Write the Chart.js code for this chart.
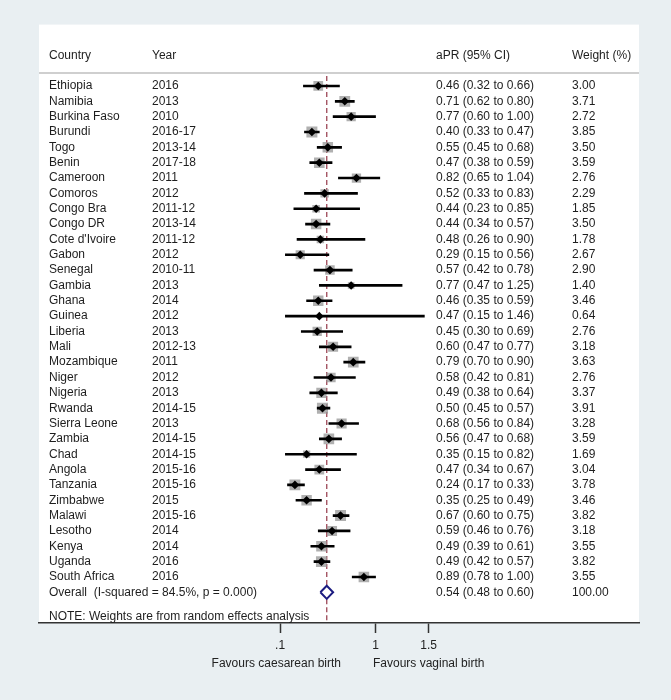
<!DOCTYPE html>
<html>
<head>
<meta charset="utf-8">
<script src="https://cdn.jsdelivr.net/npm/chart.js@4.4.0/dist/chart.umd.min.js"></script>
<style>
  body { margin: 0; background: #e9eff2; }
  #wrap { width: 671px; height: 700px; }
</style>
</head>
<body>
<div id="wrap"><canvas id="c" width="671" height="700"></canvas></div>
<script>
// study rows, top to bottom
const countries = ['Ethiopia', 'Namibia', 'Burkina Faso', 'Burundi', 'Togo', 'Benin', 'Cameroon', 'Comoros',
  'Congo Bra', 'Congo DR', "Cote d'Ivoire", 'Gabon', 'Senegal', 'Gambia', 'Ghana', 'Guinea', 'Liberia', 'Mali',
  'Mozambique', 'Niger', 'Nigeria', 'Rwanda', 'Sierra Leone', 'Zambia', 'Chad', 'Angola', 'Tanzania', 'Zimbabwe',
  'Malawi', 'Lesotho', 'Kenya', 'Uganda', 'South Africa'];
const years = ['2016', '2013', '2010', '2016-17', '2013-14', '2017-18', '2011', '2012',
  '2011-12', '2013-14', '2011-12', '2012', '2010-11', '2013', '2014', '2012', '2013', '2012-13',
  '2011', '2012', '2013', '2014-15', '2013', '2014-15', '2014-15', '2015-16', '2015-16', '2015',
  '2015-16', '2014', '2014', '2016', '2016'];
const aprs = [0.46, 0.71, 0.77, 0.40, 0.55, 0.47, 0.82, 0.52, 0.44, 0.44, 0.48, 0.29, 0.57, 0.77, 0.46, 0.47, 0.45,
  0.60, 0.79, 0.58, 0.49, 0.50, 0.68, 0.56, 0.35, 0.47, 0.24, 0.35, 0.67, 0.59, 0.49, 0.49, 0.89];
const ciLow = [0.32, 0.62, 0.60, 0.33, 0.45, 0.38, 0.65, 0.33, 0.23, 0.34, 0.26, 0.15, 0.42, 0.47, 0.35, 0.15, 0.30,
  0.47, 0.70, 0.42, 0.38, 0.45, 0.56, 0.47, 0.15, 0.34, 0.17, 0.25, 0.60, 0.46, 0.39, 0.42, 0.78];
const ciHigh = [0.66, 0.80, 1.00, 0.47, 0.68, 0.59, 1.04, 0.83, 0.85, 0.57, 0.90, 0.56, 0.78, 1.25, 0.59, 1.46, 0.69,
  0.77, 0.90, 0.81, 0.64, 0.57, 0.84, 0.68, 0.82, 0.67, 0.33, 0.49, 0.75, 0.76, 0.61, 0.57, 1.00];
const weights = [3.00, 3.71, 2.72, 3.85, 3.50, 3.59, 2.76, 2.29, 1.85, 3.50, 1.78, 2.67, 2.90, 1.40, 3.46, 0.64, 2.76,
  3.18, 3.63, 2.76, 3.37, 3.91, 3.28, 3.59, 1.69, 3.04, 3.78, 3.46, 3.82, 3.18, 3.55, 3.82, 3.55];

// pooled estimate
const overallLabel = 'Overall  (I-squared = 84.5%, p = 0.000)';
const overallApr = 0.54;
const overallLow = 0.48;
const overallHigh = 0.60;
const overallWeight = 100.00;

const headers = ['Country', 'Year', 'aPR (95% CI)', 'Weight (%)'];
const noteText = 'NOTE: Weights are from random effects analysis';
const tickValues = [0.1, 1, 1.5];
const tickLabels = ['.1', '1', '1.5'];
const favourLeft = 'Favours caesarean birth';
const favourRight = 'Favours vaginal birth';

const FONT = '"Liberation Sans", Arial, sans-serif';
const TEXT = '#1e1e1e';
const overallRow = countries.length;

const fmt = v => v.toFixed(2);
const ciText = (e, l, h) => `${fmt(e)} (${fmt(l)} to ${fmt(h)})`;

// background + text columns
const forestText = {
  id: 'forestText',
  beforeDraw(chart) {
    const { ctx, chartArea: a } = chart;
    ctx.save();
    ctx.fillStyle = '#e9eff2';
    ctx.fillRect(0, 0, chart.width, chart.height);
    ctx.fillStyle = '#ffffff';
    ctx.fillRect(a.left, a.top, a.right - a.left, a.bottom - a.top);
    const y = chart.scales.y;
    ctx.strokeStyle = '#cfcfcf';
    ctx.lineWidth = 2;
    ctx.beginPath();
    ctx.moveTo(a.left, y.getPixelForValue(-0.85));
    ctx.lineTo(a.right, y.getPixelForValue(-0.85));
    ctx.stroke();
    ctx.restore();
  },
  afterDraw(chart) {
    const { ctx } = chart;
    const y = chart.scales.y;
    const cols = [49, 152, 436, 572];
    ctx.save();
    ctx.font = '12px ' + FONT;
    ctx.fillStyle = TEXT;
    ctx.textBaseline = 'middle';
    ctx.textAlign = 'left';
    headers.forEach((h, i) => ctx.fillText(h, cols[i], y.getPixelForValue(-2)));
    countries.forEach((c, i) => {
      const py = y.getPixelForValue(i);
      ctx.fillText(c, cols[0], py);
      ctx.fillText(years[i], cols[1], py);
      ctx.fillText(ciText(aprs[i], ciLow[i], ciHigh[i]), cols[2], py);
      ctx.fillText(fmt(weights[i]), cols[3], py);
    });
    const oy = y.getPixelForValue(overallRow);
    ctx.fillText(overallLabel, cols[0], oy);
    ctx.fillText(ciText(overallApr, overallLow, overallHigh), cols[2], oy);
    ctx.fillText(fmt(overallWeight), cols[3], oy);
    ctx.fillText(noteText, cols[0], y.getPixelForValue(34.6));
    // axis captions
    ctx.fillStyle = '#222';
    ctx.textAlign = 'right';
    ctx.fillText(favourLeft, 341, 664);
    ctx.textAlign = 'left';
    ctx.fillText(favourRight, 373, 664);
    ctx.restore();
  }
};

const rows = countries.map((_, i) => i);

new Chart(document.getElementById('c').getContext('2d'), {
  type: 'scatter',
  data: {
    datasets: [
      {
        // point estimates
        data: rows.map(i => ({ x: aprs[i], y: i })),
        pointStyle: 'rectRot',
        pointRadius: 4.3,
        backgroundColor: '#000',
        borderColor: '#000',
        borderWidth: 0
      },
      {
        // confidence intervals
        type: 'bar',
        indexAxis: 'y',
        data: rows.map(i => ({ x: [ciLow[i], ciHigh[i]], y: i })),
        barThickness: 2,
        backgroundColor: '#000',
        borderWidth: 0
      },
      {
        // weight boxes
        data: rows.map(i => ({ x: aprs[i], y: i })),
        pointStyle: 'rect',
        pointRadius: rows.map(i => 5.6 * Math.sqrt(weights[i]) / 1.414),
        backgroundColor: 'rgba(150,150,150,0.75)',
        borderWidth: 0
      },
      {
        // pooled diamond
        type: 'line',
        data: [
          { x: overallLow, y: overallRow },
          { x: overallApr, y: overallRow - 0.43 },
          { x: overallHigh, y: overallRow },
          { x: overallApr, y: overallRow + 0.43 },
          { x: overallLow, y: overallRow }
        ],
        borderColor: '#1c1c80',
        borderWidth: 2,
        pointRadius: 0,
        tension: 0,
        fill: false
      },
      {
        // pooled estimate reference line, broken around the diamond
        type: 'line',
        data: [
          { x: overallApr, y: -0.65 },
          { x: overallApr, y: overallRow - 0.45 },
          { x: overallApr, y: null },
          { x: overallApr, y: overallRow + 0.45 },
          { x: overallApr, y: 35 }
        ],
        spanGaps: false,
        borderColor: '#9c4656',
        borderWidth: 1.3,
        borderDash: [5, 3],
        pointRadius: 0,
        fill: false
      }
    ]
  },
  options: {
    responsive: false,
    animation: false,
    devicePixelRatio: 1,
    events: [],
    layout: { padding: { left: 39, right: 32, top: 24.6, bottom: 0 } },
    plugins: { legend: { display: false }, tooltip: { enabled: false } },
    scales: {
      x: {
        type: 'linear',
        min: -2.172,
        max: 3.483,
        offset: false,
        afterBuildTicks: s => { s.ticks = tickValues.map(v => ({ value: v })); },
        afterFit: s => { s.height = 77; },
        grid: { offset: false, drawOnChartArea: false, drawTicks: true, tickLength: 10, tickColor: '#333', tickWidth: 1.5 },
        border: { color: '#333', width: 1.5 },
        ticks: {
          autoSkip: false,
          maxRotation: 0,
          padding: 5,
          color: '#222',
          font: { size: 12, family: FONT },
          callback: (v, i) => tickLabels[i]
        }
      },
      y: { type: 'linear', reverse: true, min: -4, max: 35, offset: false, grid: { offset: false }, display: false }
    }
  },
  plugins: [forestText]
});
</script>
</body>
</html>
